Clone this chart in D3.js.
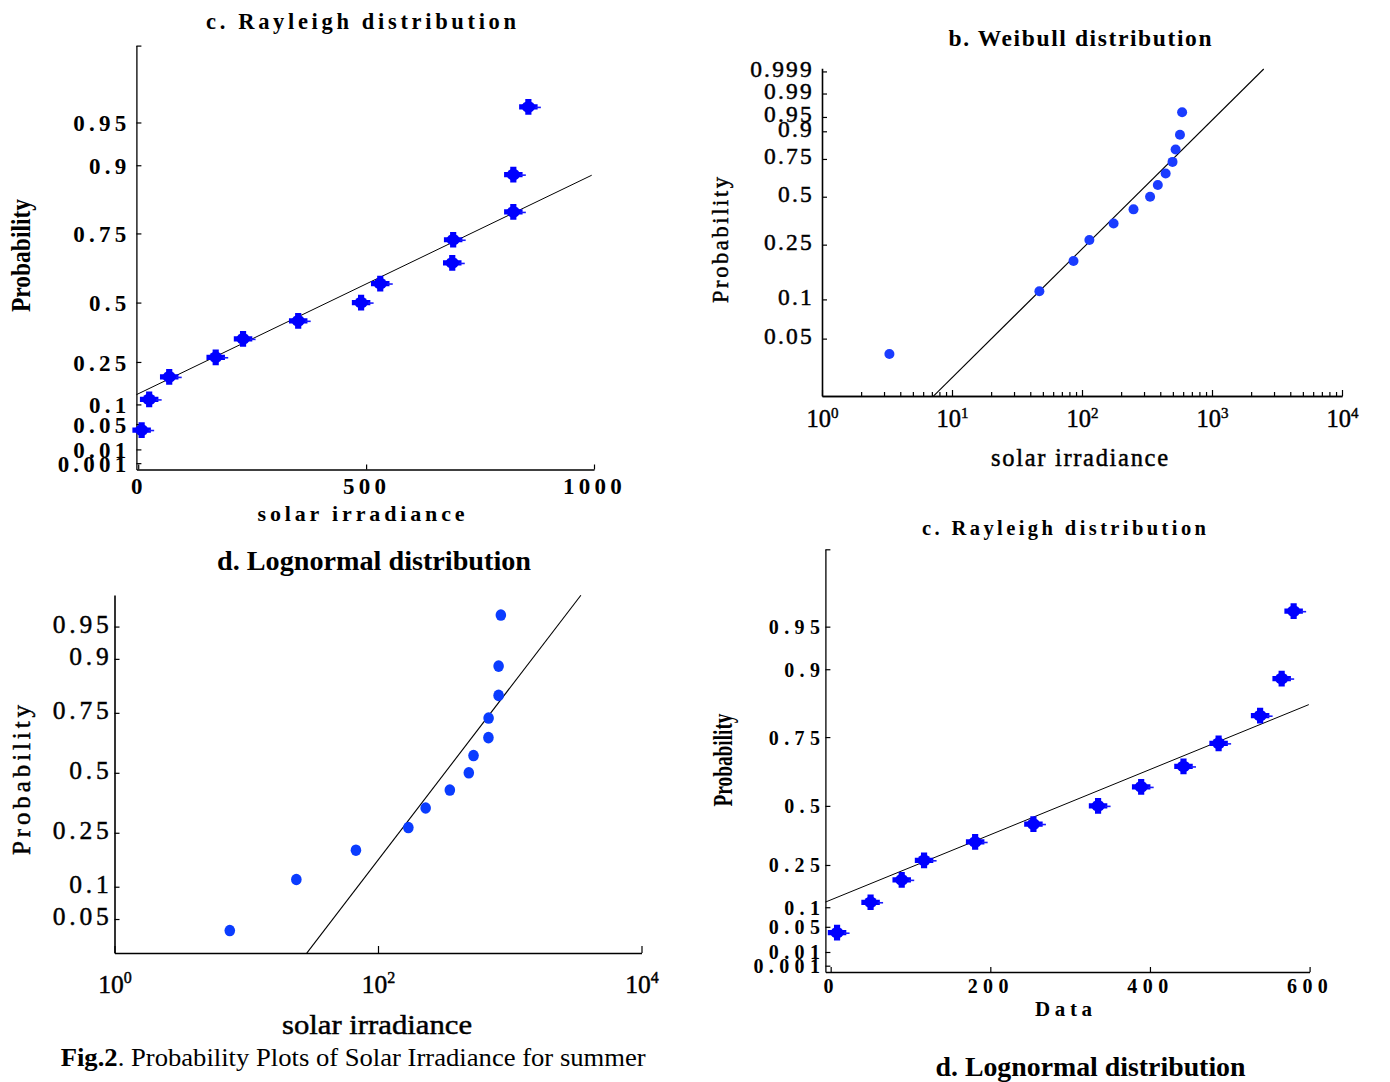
<!DOCTYPE html>
<html><head><meta charset="utf-8">
<script src="https://cdn.jsdelivr.net/npm/d3@7"></script>
<style>body{margin:0;background:#fff}svg{display:block}svg text{font-family:"Liberation Serif","Times New Roman",Times,serif}</style>
</head><body>
<script>
// ---------------- data ----------------
const probability = [0.038,0.115,0.192,0.269,0.346,0.423,0.5,0.577,0.654,0.731,0.808,0.885,0.962];
const irradianceA = [7.5,24,68,170,230,351,489,531,689,691,823,823,856];      // panels "c" (top) and "d"
const irradianceWeibull = [3.3,47,86,114,175,249,334,383,440,497,525,567,589]; // panel "b"
const irradianceData = [8,50,89,117,181,254,335,389,442,486,538,565,580];      // panel "c" (bottom)
const rayleighTicks = [0.001,0.01,0.05,0.1,0.25,0.5,0.75,0.9,0.95];
const weibullTicks = [0.05,0.1,0.25,0.5,0.75,0.9,0.95,0.99,0.999];
const lognormalTicks = [0.05,0.1,0.25,0.5,0.75,0.9,0.95];
const xTicksA = [0,500,1000];
const xTicksData = [0,200,400,600];
const decadesWeibull = [1,10,100,1000,10000];
const decadesLognormal = [1,100,10000];
const fitRayleighA = {x:[-4,995], p:[0.130,0.884]};
const fitWeibull = {x:[7.2,2500], p:[0.0177,0.99927]};
const fitLognormal = {x:[28.8,3467], p:[0.0213,0.9771]};
const fitRayleighData = {x:[-6.6,599], p:[0.1155,0.834]};

// ---------------- probability transforms ----------------
const rayQ = p => Math.sqrt(-2*Math.log(1-p));
const wblQ = p => Math.log(-Math.log(1-p));
function normQ(p){
  const a=[-3.969683028665376e+01,2.209460984245205e+02,-2.759285104469687e+02,1.383577518672690e+02,-3.066479806614716e+01,2.506628277459239e+00];
  const b=[-5.447609879822406e+01,1.615858368580409e+02,-1.556989798598866e+02,6.680131188771972e+01,-1.328068155288572e+01];
  const c=[-7.784894002430293e-03,-3.223964580411365e-01,-2.400758277161838e+00,-2.549732539343734e+00,4.374664141464968e+00,2.938163982698783e+00];
  const d=[7.784695709041462e-03,3.224671290700398e-01,2.445134137142996e+00,3.754408661907416e+00];
  const pl=0.02425; let q,r;
  if(p<pl){q=Math.sqrt(-2*Math.log(p));return (((((c[0]*q+c[1])*q+c[2])*q+c[3])*q+c[4])*q+c[5])/((((d[0]*q+d[1])*q+d[2])*q+d[3])*q+1);}
  if(p<=1-pl){q=p-0.5;r=q*q;return (((((a[0]*r+a[1])*r+a[2])*r+a[3])*r+a[4])*r+a[5])*q/(((((b[0]*r+b[1])*r+b[2])*r+b[3])*r+b[4])*r+1);}
  q=Math.sqrt(-2*Math.log(1-p));return -(((((c[0]*q+c[1])*q+c[2])*q+c[3])*q+c[4])*q+c[5])/((((d[0]*q+d[1])*q+d[2])*q+d[3])*q+1);
}

const SERIF = '"Liberation Serif","Times New Roman",Times,serif';
const svg = d3.select('body').append('svg').attr('width',1390).attr('height',1082);
svg.append('rect').attr('width',1390).attr('height',1082).attr('fill','#fff');

function label(txt, x, y, o){
  const t = svg.append('text').attr('x',x).attr('y',y).attr('text-anchor','middle')
    .attr('font-family',SERIF).attr('font-size',o.fs).attr('font-weight',o.fw||'normal')
    .attr('fill','#000');
  if(o.rot) t.attr('transform',`rotate(-90,${x},${y})`);
  if(o.len) t.attr('textLength',o.len).attr('lengthAdjust',o.adj||'spacing');
  if(o.stroke) t.attr('stroke','#000').attr('stroke-width',o.stroke);
  t.text(txt);
  return t;
}

function yAxis(x, yScale, values, labels, o){
  const g = svg.append('g').attr('transform',`translate(${x},0)`);
  g.call(d3.axisLeft(yScale).tickValues(values).tickFormat((d,i)=>labels[i])
    .tickSizeInner(-o.tick).tickSizeOuter(0).tickPadding(o.pad));
  g.attr('font-family',SERIF).attr('font-size',o.fs).attr('font-weight',o.fw||'normal');
  g.select('.domain').attr('stroke-width',o.sw);
  g.selectAll('.tick line').attr('stroke-width',o.tsw||1.2);
  g.selectAll('.tick text').attr('dy',o.dy).style('letter-spacing',o.ls+'px');
  if(o.stroke) g.selectAll('.tick text').attr('stroke','#000').attr('stroke-width',o.stroke);
  return g;
}
function xAxis(y, xScale, values, fmt, o){
  const g = svg.append('g').attr('transform',`translate(0,${y})`);
  g.call(d3.axisBottom(xScale).tickValues(values).tickFormat(fmt)
    .tickSizeInner(-o.tick).tickSizeOuter(0).tickPadding(o.pad));
  g.attr('font-family',SERIF).attr('font-size',o.fs).attr('font-weight',o.fw||'normal');
  g.select('.domain').attr('stroke-width',o.sw);
  g.selectAll('.tick line').attr('stroke-width',o.tsw||1.2);
  g.selectAll('.tick text').style('letter-spacing',(o.ls||0)+'px');
  if(o.stroke) g.selectAll('.tick text').attr('stroke','#000').attr('stroke-width',o.stroke);
  return g;
}
function powerLabels(g, supFs, rise){
  g.selectAll('.tick text').text(null).each(function(d){
    const t = d3.select(this);
    t.append('tspan').text('10');
    t.append('tspan').attr('dy',-rise).attr('font-size',supFs).text(Math.round(Math.log10(d)));
  });
}
function fitLine(xs, ys, fit, tf, w){
  svg.append('path').datum(fit.x.map((v,i)=>[v,fit.p[i]]))
    .attr('d', d3.line().x(d=>xs(d[0])).y(d=>ys(tf(d[1]))))
    .attr('fill','none').attr('stroke','#000').attr('stroke-width',w||1);
}
const crossSym = d3.symbol().type(d3.symbolCross).size(190)();
function crossMarkers(xs, ys, xv, tf){
  const g = svg.append('g').attr('fill','#0000ff');
  xv.forEach((v,i)=>{
    const cx = xs(v), cy = ys(tf(probability[i]));
    const m = g.append('g').attr('transform',`translate(${cx},${cy})`);
    m.append('path').attr('d',crossSym).attr('transform','scale(1.0,0.85)');
    m.append('ellipse').attr('rx',6.6).attr('ry',5.8);
    m.append('line').attr('x1',7).attr('x2',12.5).attr('y1',0.5).attr('y2',0.5)
      .attr('stroke','#1a1aff').attr('stroke-width',1.6);
  });
}
function dotMarkers(xs, ys, xv, tf, col, rx, ry){
  svg.append('g').selectAll('ellipse').data(xv).join('ellipse')
    .attr('cx',d=>xs(d)).attr('cy',(d,i)=>ys(tf(probability[i])))
    .attr('rx',rx).attr('ry',ry).attr('fill',col);
}

// ================= Panel 1: c. Rayleigh distribution (top-left) =================
{
  const x = d3.scaleLinear().domain([-4,1000]).range([136.4,594]);
  const y = d3.scaleLinear().domain([0,2.99]).range([469.5,45.6]);
  yAxis(136.4, y, rayleighTicks.map(rayQ).concat([2.99]), rayleighTicks.map(String).concat(['']),
    {tick:5, pad:6, fs:23, fw:'bold', sw:1.3, dy:'0.35em', ls:4.2});
  xAxis(469.5, x, xTicksA, d3.format('d'), {tick:5, pad:8, fs:23, fw:'bold', sw:1.3, ls:4.2});
  fitLine(x, y, fitRayleighA, rayQ, 1);
  crossMarkers(x, y, irradianceA, rayQ);
  label('c. Rayleigh distribution', 361, 29, {fs:22.5, fw:'bold', len:310});
  label('solar irradiance', 361, 521, {fs:22, fw:'bold', len:207});
  label('Probability', 29.5, 255.5, {fs:28, fw:'bold', len:113, adj:'spacingAndGlyphs', rot:true});
}

// ================= Panel 2: b. Weibull distribution (top-right) =================
{
  const x = d3.scaleLog().domain([1,1e4]).range([822,1342]);
  const y = d3.scaleLinear().domain([-4.023,1.99]).range([396,68.3]);
  yAxis(822, y, weibullTicks.map(wblQ), weibullTicks.map(String),
    {tick:5, pad:8, fs:23.5, sw:1.6, dy:'0.2em', ls:2.2, stroke:0.45});
  const minor = [];
  for(let e=0;e<4;e++) for(let k=2;k<=9;k++) minor.push(k*Math.pow(10,e));
  xAxis(396, x, minor, ()=> '', {tick:4, pad:6, fs:10, sw:1.6});
  const gx = xAxis(396, x, decadesWeibull, d=>d, {tick:6, pad:14, fs:24.5, sw:1.6, stroke:0.45});
  gx.selectAll('.tick text').attr('dy','0.71em');
  powerLabels(gx, 15, 9);
  fitLine(x, y, fitWeibull, wblQ, 1.1);
  dotMarkers(x, y, irradianceWeibull, wblQ, '#1a3cff', 5, 5);
  label('b. Weibull distribution', 1080, 46, {fs:23.5, fw:'bold', len:263});
  label('solar irradiance', 1079.5, 466, {fs:24.5, len:177, stroke:0.45});
  label('Probability', 728, 240, {fs:22.5, len:126, rot:true, stroke:0.45});
}

// ================= Panel 3: d. Lognormal distribution (bottom-left) =================
{
  const x = d3.scaleLog().domain([1,1e4]).range([114.5,641.5]);
  const y = d3.scaleLinear().domain([-2.027,2.0]).range([953,595]);
  yAxis(114.5, y, lognormalTicks.map(normQ), lognormalTicks.map(String),
    {tick:5, pad:2, fs:25.5, sw:1.6, dy:'0.22em', ls:3.8, stroke:0.45});
  const gx = xAxis(953, x, decadesLognormal, d=>d, {tick:7, pad:22, fs:25.5, sw:1.6, stroke:0.45});
  gx.selectAll('.tick text').attr('dy','0.71em');
  powerLabels(gx, 16, 10);
  fitLine(x, y, fitLognormal, normQ, 1.1);
  dotMarkers(x, y, irradianceA, normQ, '#0a3cff', 5.3, 5.8);
  label('d. Lognormal distribution', 374, 570, {fs:28, fw:'bold', len:314, adj:'spacingAndGlyphs'});
  label('solar irradiance', 377, 1034, {fs:27, len:190, adj:'spacingAndGlyphs', stroke:0.45});
  label('Probability', 30, 780, {fs:25, len:150, rot:true, stroke:0.45});
  const cap = svg.append('text').attr('x',60.7).attr('y',1066).attr('font-family',SERIF)
    .attr('font-size',25).attr('fill','#000').attr('textLength',585).attr('lengthAdjust','spacingAndGlyphs');
  cap.append('tspan').attr('font-weight','bold').text('Fig.2');
  cap.append('tspan').text('. Probability Plots of Solar Irradiance for summer');
}

// ================= Panel 4: c. Rayleigh distribution (bottom-right) =================
{
  const x = d3.scaleLinear().domain([-6.6,600]).range([825.4,1309.6]);
  const y = d3.scaleLinear().domain([0,2.996]).range([972,549.3]);
  yAxis(825.4, y, rayleighTicks.map(rayQ).concat([2.996]), rayleighTicks.map(String).concat(['']),
    {tick:5, pad:0, fs:20, fw:'bold', sw:1.3, dy:'0.35em', ls:5.4});
  xAxis(972, x, xTicksData, d3.format('d'), {tick:5, pad:7, fs:20, fw:'bold', sw:1.3, ls:5.4});
  fitLine(x, y, fitRayleighData, rayQ, 1);
  crossMarkers(x, y, irradianceData, rayQ);
  label('c. Rayleigh distribution', 1064, 535, {fs:20.5, fw:'bold', len:284});
  label('Data', 1063.5, 1015.5, {fs:21, fw:'bold', len:57});
  label('Probability', 731.5, 760, {fs:27, fw:'bold', len:93, adj:'spacingAndGlyphs', rot:true});
  label('d. Lognormal distribution', 1090.5, 1076, {fs:28, fw:'bold', len:310, adj:'spacingAndGlyphs'});
}
</script>
</body></html>
